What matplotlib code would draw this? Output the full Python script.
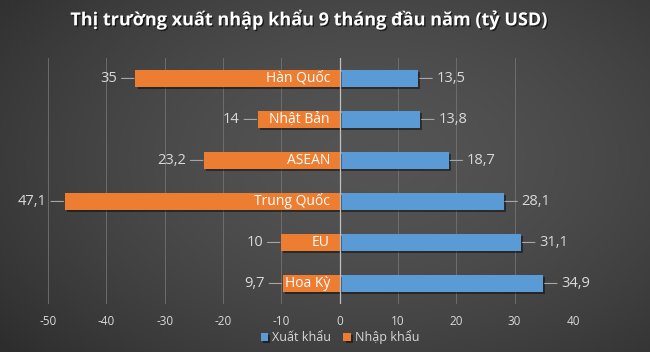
import numpy as np
import matplotlib
matplotlib.use("Agg")
import matplotlib.pyplot as plt
import matplotlib.patheffects as pe

plt.rcParams["font.family"] = ["Open Sans", "DejaVu Sans"]

markets = ["Hàn Quốc", "Nhật Bản", "ASEAN", "Trung Quốc", "EU", "Hoa Kỳ"]
xuat_khau = [13.5, 13.8, 18.7, 28.1, 31.1, 34.9]
nhap_khau = [35, 14, 23.2, 47.1, 10, 9.7]
ticks = [-50, -40, -30, -20, -10, 0, 10, 20, 30, 40]

BLUE = "#5b9bd5"
ORANGE = "#ed7d31"
TXT = "#d9d9d9"


def fmt(v):
    return ("%g" % v).replace(".", ",")


fig = plt.figure(figsize=(6.5, 3.52), dpi=100)

# dark radial background, lighter towards the middle
bg = fig.add_axes([0, 0, 1, 1], zorder=-10)
yy, xx = np.mgrid[1:-1:200j, -1:1:370j]
r = np.sqrt(((xx - 0.15) * 0.85) ** 2 + ((yy - 0.1) * 0.75) ** 2)
shade = 0.33 - 0.15 * np.clip(r, 0, 1.25) ** 1.6 / 1.25 ** 1.6
bg.imshow(np.dstack([shade] * 3), aspect="auto", extent=[0, 1, 0, 1])
bg.axis("off")

ax = fig.add_axes([0.0738, 0.1364, 0.8077, 0.699])
ax.set_facecolor("none")

y = np.arange(len(markets))
shadow = [pe.SimplePatchShadow(offset=(1.5, -1.5), shadow_rgbFace="black", alpha=0.45), pe.Normal()]
b1 = ax.barh(y, xuat_khau, height=0.42, color=BLUE, label="Xuất khẩu", zorder=3)
b2 = ax.barh(y, [-v for v in nhap_khau], height=0.42, color=ORANGE, label="Nhập khẩu", zorder=3)
for b in list(b1) + list(b2):
    b.set_path_effects(shadow)

ax.set_xlim(-50, 40)
ax.set_ylim(5.5, -0.5)
ax.set_xticks(ticks)
ax.set_xticklabels([str(t) for t in ticks])
ax.set_yticks([])
ax.tick_params(axis="x", length=0, colors=TXT, labelsize=8.5, pad=8)
for s in ax.spines.values():
    s.set_visible(False)
ax.grid(axis="x", color="#737373", linewidth=0.6, zorder=0)
ax.axvline(0, color="#bfbfbf", linewidth=0.9, zorder=4)

for i, name in enumerate(markets):
    ax.annotate(name, (0, i), xytext=(-7, 0), textcoords="offset points",
                ha="right", va="center", color="white", fontsize=10, zorder=5)
    # export value
    v = xuat_khau[i]
    ax.annotate("", (v, i), xytext=(10, 0), textcoords="offset points",
                arrowprops=dict(arrowstyle="-", color="#a6a6a6", lw=0.8, shrinkA=0, shrinkB=1))
    ax.annotate(fmt(v), (v, i), xytext=(13, 0), textcoords="offset points",
                ha="left", va="center", color=TXT, fontsize=10.5)
    # import value
    v = -nhap_khau[i]
    ax.annotate("", (v, i), xytext=(-10, 0), textcoords="offset points",
                arrowprops=dict(arrowstyle="-", color="#a6a6a6", lw=0.8, shrinkA=0, shrinkB=1))
    ax.annotate(fmt(nhap_khau[i]), (v, i), xytext=(-13, 0), textcoords="offset points",
                ha="right", va="center", color=TXT, fontsize=10.5)

leg = fig.legend(handles=[b1, b2], loc="center", bbox_to_anchor=(0.523, 0.042), ncol=2,
                 frameon=False, fontsize=9, handlelength=0.6, handleheight=0.6,
                 handletextpad=0.3, columnspacing=1.0, labelcolor=TXT)

fig.text(0.474, 0.945, "Thị trường xuất nhập khẩu 9 tháng đầu năm (tỷ USD)",
         ha="center", va="center", color="white", fontsize=13, fontweight="bold",
         path_effects=[pe.SimplePatchShadow(offset=(1, -1), shadow_rgbFace="black", alpha=0.6), pe.Normal()])

fig.savefig("out.png", dpi=100)
